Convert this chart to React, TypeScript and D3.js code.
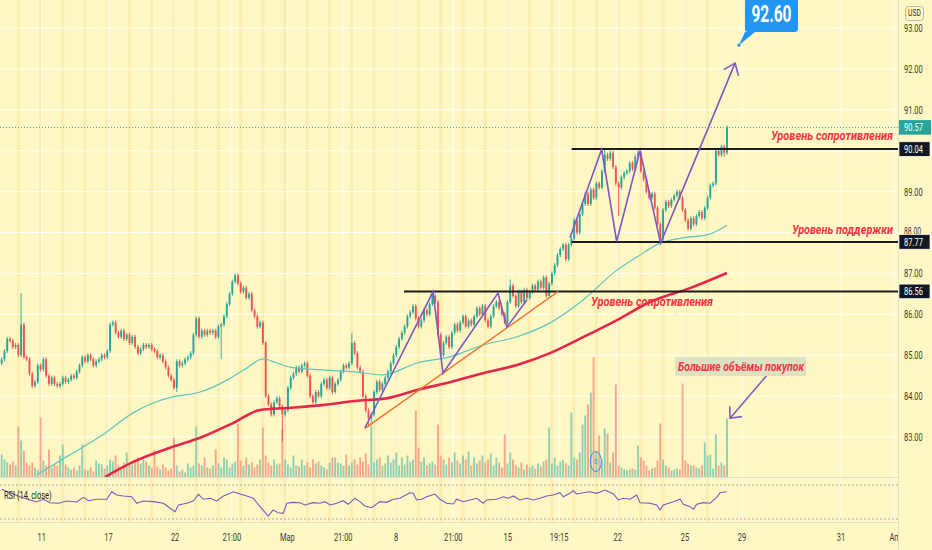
import React from 'react';
import * as d3 from 'd3';

// hourly closes, oldest first (open = previous close)
const closes: number[] = [
  84.9, 85.1, 85.4, 85.35, 85.2, 85.25, 85.0, 85.75, 84.95, 84.9,
  84.55, 84.25, 84.35, 84.75, 84.65, 84.9, 84.5, 84.3, 84.45, 84.3,
  84.25, 84.3, 84.45, 84.35, 84.4, 84.5, 84.45, 84.6, 84.75, 84.95,
  84.85, 85.0, 84.9, 84.75, 84.85, 84.9, 85.0, 84.95, 85.1, 85.75,
  85.8, 85.55, 85.45, 85.6, 85.4, 85.5, 85.3, 85.45, 85.2, 85.05,
  85.15, 85.25, 85.2, 85.25, 85.15, 85.1, 84.95, 85.0, 84.85, 84.7,
  84.5, 84.4, 84.2, 84.85, 84.75, 84.8, 84.9, 84.95, 85.05, 85.5,
  85.9, 85.45, 85.6, 85.5, 85.6, 85.55, 85.6, 85.45, 85.7, 85.75,
  85.95, 86.25, 86.5, 86.8, 86.95, 86.75, 86.55, 86.65, 86.4, 86.5,
  86.1, 85.95, 85.7, 85.8, 85.3, 84.0, 83.8, 83.55, 83.85, 83.95,
  83.75, 83.55, 83.65, 84.2, 84.45, 84.55, 84.7, 84.6, 84.75, 84.8,
  84.5, 84.0, 83.85, 84.1, 84.0, 84.3, 84.4, 84.2, 84.45, 84.1,
  84.3, 84.4, 84.6, 84.75, 84.7, 84.8, 85.3, 85.05, 84.7, 84.6,
  84.0, 83.65, 83.45, 83.55, 84.1, 84.35, 84.15, 84.3, 84.45, 84.6,
  84.8, 85.0, 85.2, 85.4, 85.55, 85.7, 85.95, 86.05, 86.2, 85.9,
  85.7, 85.85, 86.1, 86.0, 86.25, 86.45, 86.3, 85.5, 85.0, 85.3,
  85.45, 85.2, 85.55, 85.75, 85.6, 85.8, 85.95, 85.7, 85.85, 85.75,
  85.95, 86.15, 86.0, 86.2, 85.85, 85.7, 85.95, 86.2, 86.3, 86.15,
  86.0, 85.8, 86.3, 86.7, 86.45, 86.2, 86.55, 86.3, 86.6, 86.4,
  86.55, 86.7, 86.6, 86.8, 86.65, 86.9, 86.45, 86.75, 87.0, 87.2,
  87.45, 87.6, 87.7, 87.35, 87.7, 87.85, 88.3, 88.0, 88.45, 88.7,
  88.95, 88.7, 89.05, 88.85, 89.2, 89.1, 89.5, 89.9, 89.8, 89.95,
  89.6, 89.2, 89.1, 89.35, 89.45, 89.5, 89.7, 89.55, 89.85, 89.95,
  89.5, 89.3, 89.0, 88.85, 88.95, 88.6, 88.2, 87.85, 88.55, 88.75,
  88.65, 88.8, 88.9, 89.0, 88.85, 88.55, 88.3, 88.1, 88.35, 88.2,
  88.4, 88.5, 88.35, 88.6, 88.85, 89.15, 89.2, 90.0, 89.9, 90.1,
  89.95, 90.57,
];
const firstOpen = 84.8;

const volumes: number[] = [
  23, 18, 15, 13, 16, 12, 51, 37, 27, 15,
  12, 15, 10, 8, 60, 17, 12, 28, 10, 13,
  12, 22, 33, 13, 10, 8, 10, 7, 12, 33,
  8, 7, 10, 6, 17, 14, 13, 9, 12, 18,
  16, 22, 12, 9, 15, 25, 12, 15, 17, 20,
  14, 18, 16, 12, 10, 27, 11, 8, 13, 10,
  7, 9, 40, 12, 6, 8, 5, 14, 10, 12,
  51, 14, 12, 20, 10, 9, 12, 28, 14, 10,
  20, 18, 10, 14, 16, 54, 17, 12, 20, 13,
  15, 10, 13, 18, 50, 22, 15, 12, 18, 13,
  14, 48, 18, 13, 10, 22, 12, 11, 18, 12,
  15, 10, 18, 14, 16, 12, 10, 8, 15, 20,
  20, 15, 14, 12, 23, 12, 15, 18, 13, 20,
  16, 24, 13, 57, 15, 18, 20, 12, 14, 22,
  15, 18, 25, 12, 20, 13, 22, 16, 18, 67,
  30, 16, 20, 12, 14, 16, 13, 53, 22, 18,
  13, 20, 15, 25, 17, 14, 22, 18, 26, 12,
  20, 14, 17, 22, 15, 18, 24, 12, 20, 15,
  10, 43, 14, 25, 18, 12, 10, 15, 8, 13,
  10, 12, 9, 14, 11, 16, 18, 50, 14, 20,
  12, 16, 18, 14, 12, 65, 20, 18, 25, 53,
  62, 73, 85, 120, 26, 42, 18, 49, 44, 15,
  25, 93, 12, 10, 8, 7, 8, 9, 8, 32,
  20, 17, 12, 7, 9, 10, 17, 54, 18, 12,
  10, 7, 8, 9, 8, 94, 17, 14, 12, 12,
  10, 9, 12, 35, 22, 23, 9, 43, 12, 15,
  12, 59,
];

// notable wick extremes [bar, price]
const wickHighs: [number, number][] = [
  [7, 86.52], [126, 85.55], [155, 86.56], [183, 86.85], [217, 90.02], [229, 90.02], [261, 90.62],
];
const wickLows: [number, number][] = [
  [63, 84.1], [79, 84.9], [101, 82.88], [132, 83.25], [222, 88.4], [238, 87.75], [260, 89.85], [261, 89.9],
];

// moving averages [bar, price]
const maFast: [number, number][] = [
  [12.6, 82.07], [23.4, 82.52], [35.4, 83.01], [47.3, 83.59], [54.5, 83.83], [61.6, 83.98],
  [71.4, 84.1], [81.1, 84.39], [88.3, 84.69], [94, 84.91], [99, 84.81], [103.8, 84.71],
  [115.3, 84.64], [127.2, 84.59], [137.2, 84.52], [149.5, 84.81], [161.3, 84.96], [173.2, 85.25],
  [185.4, 85.45], [197.3, 85.79], [209.2, 86.35], [221.4, 87.08], [228.6, 87.4], [236.9, 87.74],
  [245.2, 87.87], [253.8, 87.94], [261, 88.18],
];
const maSlow: [number, number][] = [
  [37.2, 82.02], [47.3, 82.39], [61.6, 82.76], [71.4, 82.98], [83.2, 83.34], [92.9, 83.66],
  [103, 83.71], [115.3, 83.78], [127.2, 83.88], [139, 83.95], [149.5, 84.15], [161.3, 84.34],
  [173.2, 84.56], [185.4, 84.76], [197.3, 85.05], [209.2, 85.44], [221.4, 85.86], [233.3, 86.3],
  [247.7, 86.64], [261, 87.01],
];

// RSI (14, close) [bar, value]
const rsi: [number, number][] = [
  [0, 64.9], [6.6, 56.2], [10.2, 52.4], [12.6, 50.4], [15, 53.2], [17.4, 49.2], [20.4, 48.5],
  [23.4, 51.2], [27, 50], [29.4, 55.5], [31.2, 51.5], [34.2, 53.2], [37.8, 53.2], [39.6, 62.1],
  [41.4, 58.2], [43.8, 57.1], [46.8, 56.2], [48.6, 48.5], [51, 51.2], [54.6, 50.4], [58.2, 48.5],
  [60.6, 42.6], [62.4, 38.6], [63.6, 46.5], [66.6, 48.5], [69, 51.5], [70.8, 59.1], [72.6, 53.2],
  [75, 54.4], [77.4, 51.2], [79.8, 57.1], [83.4, 62.1], [85.8, 59.4], [88.2, 57.1], [90.5, 54.4],
  [93, 44.5], [95.9, 33.5], [97.7, 40.6], [99.5, 37.4], [101.3, 36.7], [102.6, 48.5], [104.9, 49.6],
  [107.3, 49.2], [109.1, 46.5], [112.1, 49.2], [114.5, 48.5], [116.3, 50.4], [118.2, 46.5],
  [120.6, 48.5], [122.9, 51.5], [124.7, 47.3], [127.1, 54.4], [128.9, 50.4], [130.7, 45.3],
  [133.1, 43.3], [136.1, 50.4], [138.5, 49.6], [140.9, 53.2], [143.3, 54.4], [146.9, 60.9],
  [148.1, 60.2], [149.3, 52.4], [151.1, 53.2], [152.9, 56.2], [155.9, 59.4], [157.7, 53.2],
  [160.1, 48.5], [162.5, 47.6], [163.7, 53.2], [166.1, 50.4], [168.5, 52.4], [170.9, 54.4],
  [173.3, 48.5], [174.5, 52.4], [178.1, 53.2], [180.5, 56.2], [182.3, 54.4], [184.1, 57.1],
  [186.5, 52.4], [188.9, 54.4], [191.3, 52.4], [193.7, 54.4], [196.1, 57.1], [198.5, 58.2],
  [200.9, 60.9], [202.1, 56.2], [204.5, 60.2], [205.7, 63.3], [206.9, 59.4], [209.3, 60.9],
  [211.7, 62.1], [214.1, 60.2], [217.1, 64.1], [220.1, 59.4], [221.9, 52.4], [223.7, 54.4],
  [226.1, 53.2], [228.5, 58.2], [229.7, 49.2], [233.3, 48.5], [235.7, 46.5], [236.9, 40.6],
  [238.1, 46.5], [241.7, 50.4], [244.1, 53.2], [245.3, 47.3], [247.7, 44.5], [248.9, 41.4],
  [250.1, 47.3], [252.5, 49.2], [254.9, 48.5], [257.3, 55.5], [258.5, 60.9], [260.9, 62.1],
];

const timeTicks: [number, string][] = [
  [14.4, '11'], [38.4, '17'], [62.4, '22'], [82.8, '21:00'], [102.8, 'Мар'], [122.9, '21:00'],
  [141.9, '8'], [162.5, '21:00'], [182.1, '15'], [200.6, '19:15'], [221.7, '22'], [245.9, '25'],
  [266.4, '29'], [302, '31'], [321.1, 'Ап'],
];
const priceTicks = [83, 84, 85, 86, 87, 88, 89, 90, 91, 92, 93];

const levels: { price: number; fromBar: number }[] = [
  { price: 90.04, fromBar: 205.1 },
  { price: 87.77, fromBar: 205.1 },
  { price: 86.56, fromBar: 144.8 },
];
const lastPrice = 90.57;
const targetPrice = 92.6;

// drawings [bar, price]
const flagZigzag: [number, number][] = [
  [130.7, 83.22], [155.2, 86.55], [158.8, 84.56], [178.6, 86.52], [181.8, 85.69], [189, 86.35],
];
const trendLine: [number, number][] = [[130.7, 83.21], [200.3, 86.56]];
const rangeZigzag: [number, number][] = [
  [204.5, 87.87], [215.9, 90.03], [221.3, 87.78], [229.7, 90.0], [237.1, 87.74], [263.9, 92.14],
];
const volumeArrow: [number, number][] = [[276.5, 84.6], [262.1, 83.46]];
const targetPoint: [number, number] = [265.3, 92.58];
const dividendMark: [number, number] = [213.8, 82.4];

const W = 932;
const H = 550;
const PLOT_W = 898;
const MAIN_H = 477.5;
const RSI_TOP = 478;
const RSI_BOTTOM = 522.5;
const WICK = 0.05;

const BG = '#FFF8C4';
const STRIPE = '#FCEEB3';
const UP = '#26A69A';
const DOWN = '#EF5350';
const PURPLE = '#7E57C2';
const LABEL_RED = '#F23645';
const FONT = "Roboto, 'Liberation Sans', Arial, sans-serif";

const CText: React.FC<{
  x: number; y: number; sx?: number; anchor?: 'start' | 'middle' | 'end';
  size?: number; fill?: string; weight?: string | number; italic?: boolean;
  len?: number; children: React.ReactNode;
}> = ({ x, y, sx = 0.68, anchor = 'start', size = 11, fill = '#3b3b3b', weight = 'normal', italic, len, children }) => (
  <text
    transform={len ? `translate(${x},${y})` : `translate(${x},${y}) scale(${sx},1)`}
    textAnchor={anchor}
    dominantBaseline="central"
    fontFamily={FONT}
    fontSize={size}
    fontWeight={weight}
    fontStyle={italic ? 'italic' : 'normal'}
    fill={fill}
    textLength={len}
    lengthAdjust={len ? 'spacingAndGlyphs' : undefined}
  >
    {children}
  </text>
);

function arrowHead(tail: [number, number], tip: [number, number], len: number, angleDeg: number) {
  const back = Math.atan2(tail[1] - tip[1], tail[0] - tip[0]);
  const a = (angleDeg * Math.PI) / 180;
  const p1 = [tip[0] + len * Math.cos(back - a), tip[1] + len * Math.sin(back - a)];
  const p2 = [tip[0] + len * Math.cos(back + a), tip[1] + len * Math.sin(back + a)];
  return `M${p1[0]},${p1[1]}L${tip[0]},${tip[1]}L${p2[0]},${p2[1]}`;
}

export default function App() {
  const x = d3.scaleLinear().domain([0, closes.length - 1]).range([1.68, 727]);
  const y = d3.scaleLinear().domain([82, 93]).range([477.9, 28]);
  const yVol = d3.scaleLinear().domain([0, 120]).range([MAIN_H, MAIN_H - 120]);
  const yRsi = d3.scaleLinear().domain([30, 70]).range([519, 485]);
  const step = x(1) - x(0);
  const bodyW = step * 0.68;

  const highMap = new Map(wickHighs);
  const lowMap = new Map(wickLows);
  const candles = closes.map((c, i) => {
    const o = i === 0 ? firstOpen : closes[i - 1];
    const hi = highMap.get(i) ?? Math.max(o, c) + WICK;
    const lo = lowMap.get(i) ?? Math.min(o, c) - WICK;
    return { i, o, c, hi, lo, up: c >= o };
  });

  const pricePath = d3.line<[number, number]>().x(d => x(d[0])).y(d => y(d[1]));
  const smoothPath = d3.line<[number, number]>().x(d => x(d[0])).y(d => y(d[1])).curve(d3.curveMonotoneX);
  const rsiPath = d3.line<[number, number]>().x(d => x(d[0])).y(d => yRsi(d[1]));

  const px = (p: [number, number]): [number, number] => [x(p[0]), y(p[1])];
  const rz = rangeZigzag.map(px);
  const va = volumeArrow.map(px);
  const tp = px(targetPoint);
  const dm = px(dividendMark);
  const stripes = d3.range(6, closes.length, 8);

  return (
    <div style={{ position: 'absolute', left: 0, top: 0, width: W, height: H }}>
      <svg width={W} height={H} style={{ display: 'block', background: BG }}>
        <defs>
          <clipPath id="main-clip"><rect x={0} y={0} width={PLOT_W} height={MAIN_H} /></clipPath>
          <clipPath id="rsi-clip"><rect x={0} y={RSI_TOP} width={PLOT_W} height={RSI_BOTTOM - RSI_TOP} /></clipPath>
        </defs>
        <rect x={0} y={0} width={W} height={H} fill={BG} />

        {/* session stripes */}
        {stripes.map(i => (
          <rect key={i} x={x(i) - 1.6} y={0} width={3.2} height={RSI_BOTTOM} fill={STRIPE} />
        ))}

        {/* grid */}
        {priceTicks.map(p => (
          <line key={p} x1={0} x2={PLOT_W} y1={y(p)} y2={y(p)} stroke="#fff" strokeOpacity={0.85} />
        ))}
        {timeTicks.map(([b], k) => (
          <line key={k} x1={x(b)} x2={x(b)} y1={0} y2={RSI_BOTTOM} stroke="#fff" strokeOpacity={0.85} />
        ))}

        <g clipPath="url(#main-clip)">
          {/* volume */}
          {candles.map(d => (
            <rect key={d.i} x={x(d.i) - bodyW / 2} y={yVol(volumes[d.i])} width={bodyW}
              height={MAIN_H - yVol(volumes[d.i])} fill={d.up ? '#8FCFB3' : '#F7A68C'} />
          ))}

          {/* candles */}
          {candles.map(d => {
            const col = d.up ? UP : DOWN;
            const top = y(Math.max(d.o, d.c));
            const bot = y(Math.min(d.o, d.c));
            return (
              <g key={d.i}>
                <line x1={x(d.i)} x2={x(d.i)} y1={y(d.hi)} y2={y(d.lo)} stroke={col} strokeWidth={0.9} />
                <rect x={x(d.i) - bodyW / 2} y={top} width={bodyW} height={Math.max(1, bot - top)} fill={col} />
              </g>
            );
          })}

          {/* moving averages */}
          <path d={smoothPath(maFast) || ''} fill="none" stroke="#5CC6BE" strokeWidth={1.2} />
          <path d={smoothPath(maSlow) || ''} fill="none" stroke="#E8254B" strokeWidth={2.6} />

          {/* last price */}
          <line x1={0} x2={PLOT_W} y1={y(lastPrice)} y2={y(lastPrice)} stroke={UP} strokeDasharray="1 2" />

          {/* levels */}
          {levels.map(l => (
            <line key={l.price} x1={x(l.fromBar)} x2={PLOT_W} y1={y(l.price)} y2={y(l.price)}
              stroke="#1c1c1c" strokeWidth={2} />
          ))}

          {/* drawings */}
          <path d={pricePath(trendLine) || ''} fill="none" stroke="#F4732E" strokeWidth={1.4} />
          <path d={pricePath(flagZigzag) || ''} fill="none" stroke={PURPLE} strokeWidth={1.6} />
          <path d={pricePath(rangeZigzag) || ''} fill="none" stroke={PURPLE} strokeWidth={1.6} />
          <path d={arrowHead(rz[rz.length - 2], rz[rz.length - 1], 13, 38)} fill="none" stroke={PURPLE} strokeWidth={1.6} />
          <path d={pricePath(volumeArrow) || ''} fill="none" stroke={PURPLE} strokeWidth={1.6} />
          <path d={arrowHead(va[0], va[1], 12, 42)} fill="none" stroke={PURPLE} strokeWidth={1.6} />

          <ellipse cx={dm[0]} cy={dm[1]} rx={5.5} ry={10} fill="none" stroke="#2196F3" strokeWidth={1} />
          <CText x={dm[0]} y={dm[1]} anchor="middle" size={8} fill="#2196F3">D</CText>

          {/* labels */}
          <CText x={PLOT_W - 127} y={y(90.36)} size={12} weight="bold" italic fill={LABEL_RED} len={122}>Уровень сопротивления</CText>
          <CText x={PLOT_W - 106} y={y(88.06)} size={12} weight="bold" italic fill={LABEL_RED} len={101}>Уровень поддержки</CText>
          <CText x={x(212.1)} y={y(86.3)} size={12} weight="bold" italic fill={LABEL_RED} len={122}>Уровень сопротивления</CText>
          <rect x={x(242.3)} y={y(84.71) - 10} width={131} height={19} fill="#DFE1C3" />
          <CText x={x(242.3) + 3} y={y(84.71)} size={12} weight="bold" italic fill={LABEL_RED} len={126}>Большие объёмы покупок</CText>

          {/* target callout */}
          <path d={`M${tp[0] + 6},${tp[1] - 13.3} L${tp[0]},${tp[1]} L${tp[0] + 16},${tp[1] - 13.3} Z`} fill="#2196F3" />
          <rect x={tp[0] + 6} y={-6} width={53} height={tp[1] - 13.3 + 6} rx={3} fill="#2196F3" />
          <circle cx={tp[0]} cy={tp[1]} r={1.6} fill="#2196F3" />
          <CText x={tp[0] + 32.5} y={14.5} anchor="middle" size={23} weight="bold" fill="#fff" len={40}>
            {targetPrice.toFixed(2)}
          </CText>
        </g>

        {/* RSI pane */}
        <line x1={0} x2={PLOT_W} y1={RSI_TOP - 0.5} y2={RSI_TOP - 0.5} stroke="#E3E0C8" />
        <g clipPath="url(#rsi-clip)">
          <line x1={0} x2={PLOT_W} y1={yRsi(70)} y2={yRsi(70)} stroke="#A8A8A8" strokeDasharray="2 2" />
          <line x1={0} x2={PLOT_W} y1={yRsi(30)} y2={yRsi(30)} stroke="#A8A8A8" strokeDasharray="2 2" />
          <path d={rsiPath(rsi) || ''} fill="none" stroke={PURPLE} strokeWidth={1.1} />
          <CText x={4} y={494.5} size={11} fill="#222">RSI (14, close)</CText>
        </g>
        <line x1={0} x2={PLOT_W} y1={RSI_BOTTOM} y2={RSI_BOTTOM} stroke="#E3E0C8" />

        {/* time axis */}
        {timeTicks.map(([b, t], k) => (
          <CText key={k} x={x(b)} y={536.5} anchor="middle" size={11}>{t}</CText>
        ))}

        {/* price axis */}
        <line x1={PLOT_W + 0.5} x2={PLOT_W + 0.5} y1={0} y2={H} stroke="#E3E0C8" />
        {priceTicks.map(p => (
          <CText key={p} x={904} y={y(p) - (p === 88 ? 1.5 : 0)} size={p === 88 ? 10 : 11}>{p.toFixed(2)}</CText>
        ))}
        <rect x={905.5} y={6.5} width={18} height={14} rx={3} fill="none" stroke="#B2B5BE" />
        <CText x={914.5} y={13.5} anchor="middle" size={9} sx={0.75} fill="#333">USD</CText>

        <rect x={PLOT_W + 1} y={y(lastPrice) - 7.3} width={32} height={14.6} fill={UP} />
        <CText x={PLOT_W + 15.5} y={y(lastPrice)} anchor="middle" size={11} fill="#fff">{lastPrice.toFixed(2)}</CText>
        {levels.map(l => (
          <g key={l.price}>
            <rect x={PLOT_W + 1} y={y(l.price) - 7.3} width={31} height={14.6} fill="#131722" stroke="#fff" strokeWidth={0.7} />
            <CText x={PLOT_W + 15.5} y={y(l.price)} anchor="middle" size={11} fill="#fff">{l.price.toFixed(2)}</CText>
          </g>
        ))}
      </svg>
    </div>
  );
}
